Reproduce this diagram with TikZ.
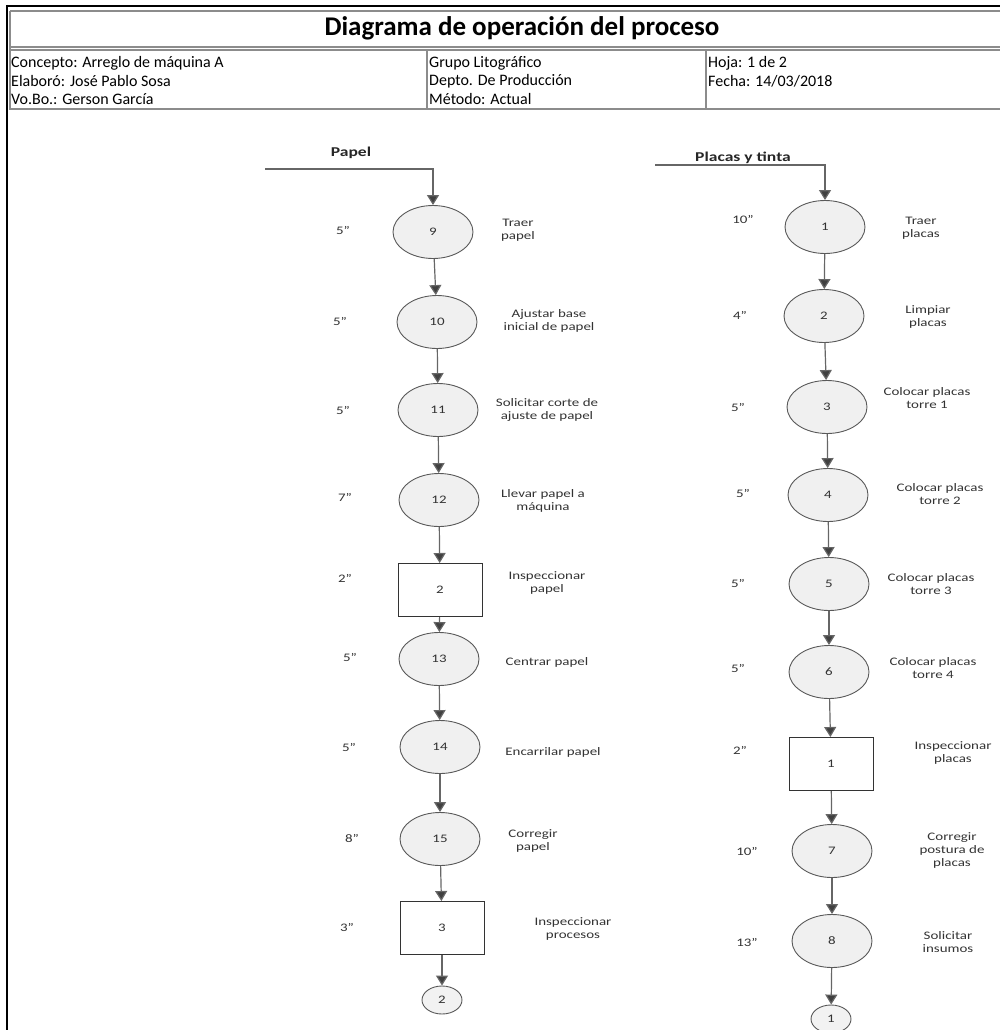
\documentclass[tikz,border=0pt]{standalone}
\usepackage{fontspec}
\setmainfont{Carlito}
\newfontfamily\bodyfont[FakeStretch=1.3]{Carlito}
\usetikzlibrary{arrows.meta,shapes.geometric}

\begin{document}
\begin{tikzpicture}[x=1pt,y=-1pt,
  frame/.style={draw=black, line width=2.4pt},
  rule/.style={draw=black!45, line width=1.1pt},
  txt/.style={font=\bodyfont\fontsize{11.5}{13}\selectfont, text=black!80, inner sep=0pt, align=center},
  op/.style={ellipse, draw=black!65, fill=black!6, line width=0.9pt,
    minimum width=80pt, minimum height=53pt, inner sep=0pt, txt},
  insp/.style={rectangle, draw=black!80, fill=white, line width=1pt,
    minimum width=84pt, minimum height=53pt, inner sep=0pt, txt},
  link/.style={ellipse, draw=black!65, fill=black!5, line width=0.9pt,
    minimum width=40pt, minimum height=28pt, inner sep=0pt, txt},
  flow/.style={draw=black!60, line width=1.2pt,
    -{Triangle[width=12pt,length=10pt,fill=black!75]}},
  tm/.style={txt},
  lbl/.style={txt},
  head/.style={font=\fontsize{16}{18}\selectfont, anchor=west, inner sep=0pt},
  src/.style={txt, font=\bodyfont\fontsize{13.5}{15}\selectfont\bfseries, text=black!85}
]
\useasboundingbox (0,0) rectangle (1000,1030);

% ---- header frame ----
\draw[frame] (6,6) -- (1000,6);
\draw[frame] (7,5) -- (7,1030);
\draw[rule] (10,11) -- (1000,11);
\draw[rule] (10,11) -- (10,110);
\draw[rule] (10,47) -- (1000,47);
\draw[rule] (10,50) -- (1000,50);
\draw[rule] (427,50) -- (427,109);
\draw[rule] (706,50) -- (706,109);
\draw[rule] (10,109) -- (1000,109);

\node[font=\fontsize{27}{30}\selectfont\bfseries, inner sep=0pt] (title) at (522,28) {Diagrama de operación del proceso};

\node[head] (h1) at (11,63) {Concepto: Arreglo de máquina A};
\node[head] (h2) at (11,81) {Elaboró: José Pablo Sosa};
\node[head] (h3) at (11,99) {Vo.Bo.: Gerson García};
\node[head] (h4) at (429,63) {Grupo Litográfico};
\node[head] (h5) at (429,81) {Depto. De Producción};
\node[head] (h6) at (429,99) {Método: Actual};
\node[head] (h7) at (708,63) {Hoja: 1 de 2};
\node[head] (h8) at (708,81) {Fecha: 14/03/2018};

% ---- paper line ----
\node[src] (papel) at (351,153) {Papel};
\coordinate (pin) at (265,169);

\node[op] (p9)  at (433,232) {9};
\node[op] (p10) at (437,322) {10};
\node[op] (p11) at (438,410) {11};
\node[op] (p12) at (439,500) {12};
\node[insp] (i2) at (440,590) {2};
\node[op] (p13) at (439,659) {13};
\node[op] (p14) at (440,747) {14};
\node[op] (p15) at (440,839) {15};
\node[insp] (i3) at (442,928) {3};
\node[link] (c2) at (442,1000) {2};

\draw[flow] (pin) -| (p9.north);
\draw[flow] (p9) -- (p10);
\draw[flow] (p10) -- (p11);
\draw[flow] (p11) -- (p12);
\draw[flow] (p12) -- (i2);
\draw[flow] (i2) -- (p13);
\draw[flow] (p13) -- (p14);
\draw[flow] (p14) -- (p15);
\draw[flow] (p15) -- (i3);
\draw[flow] (i3) -- (c2);

\node[tm] (t9)  at (343,230) {5”};
\node[tm] (t10) at (340,321) {5”};
\node[tm] (t11) at (343,410) {5”};
\node[tm] (t12) at (345,497) {7”};
\node[tm] (ti2) at (345,578) {2”};
\node[tm] (t13) at (350,657) {5”};
\node[tm] (t14) at (349,747) {5”};
\node[tm] (t15) at (352,838) {8”};
\node[tm] (ti3) at (347,927) {3”};

\node[lbl] (l9)  at (518,230) {Traer\\papel};
\node[lbl] (l10) at (549,321) {Ajustar base\\inicial de papel};
\node[lbl] (l11) at (547,410) {Solicitar corte de\\ajuste de papel};
\node[lbl] (l12) at (543,501) {Llevar papel a\\máquina};
\node[lbl] (li2) at (547,583) {Inspeccionar\\papel};
\node[lbl] (l13) at (547,662) {Centrar papel};
\node[lbl] (l14) at (553,752) {Encarrilar papel};
\node[lbl] (l15) at (533,841) {Corregir\\papel};
\node[lbl] (li3) at (573,929) {Inspeccionar\\procesos};

% ---- plates and ink line ----
\node[src] (placas) at (743,158) {Placas y tinta};
\coordinate (qin) at (655,165);

\node[op] (q1) at (825,227) {1};
\node[op] (q2) at (824,316) {2};
\node[op] (q3) at (827,407) {3};
\node[op] (q4) at (828,495) {4};
\node[op] (q5) at (829,584) {5};
\node[op] (q6) at (829,672) {6};
\node[insp] (j1) at (831,764) {1};
\node[op] (q7) at (832,851) {7};
\node[op] (q8) at (832,941) {8};
\node[link] (c1) at (831,1019) {1};

\draw[flow] (qin) -| (q1.north);
\draw[flow] (q1) -- (q2);
\draw[flow] (q2) -- (q3);
\draw[flow] (q3) -- (q4);
\draw[flow] (q4) -- (q5);
\draw[flow] (q5) -- (q6);
\draw[flow] (q6) -- (j1);
\draw[flow] (j1) -- (q7);
\draw[flow] (q7) -- (q8);
\draw[flow] (q8) -- (c1);

\node[tm] (s1) at (743,219) {10”};
\node[tm] (s2) at (740,315) {4”};
\node[tm] (s3) at (738,407) {5”};
\node[tm] (s4) at (743,493) {5”};
\node[tm] (s5) at (738,583) {5”};
\node[tm] (s6) at (738,668) {5”};
\node[tm] (sj1) at (740,750) {2”};
\node[tm] (s7) at (747,851) {10”};
\node[tm] (s8) at (747,942) {13”};

\node[lbl] (m1) at (921,228) {Traer\\placas};
\node[lbl] (m2) at (928,317) {Limpiar\\placas};
\node[lbl] (m3) at (927,398) {Colocar placas\\torre 1};
\node[lbl] (m4) at (940,494) {Colocar placas\\torre 2};
\node[lbl] (m5) at (931,584) {Colocar placas\\torre 3};
\node[lbl] (m6) at (933,668) {Colocar placas\\torre 4};
\node[lbl] (mj1) at (953,753) {Inspeccionar\\placas};
\node[lbl] (m7) at (952,850) {Corregir\\postura de\\placas};
\node[lbl] (m8) at (948,942) {Solicitar\\insumos};
\end{tikzpicture}
\end{document}
